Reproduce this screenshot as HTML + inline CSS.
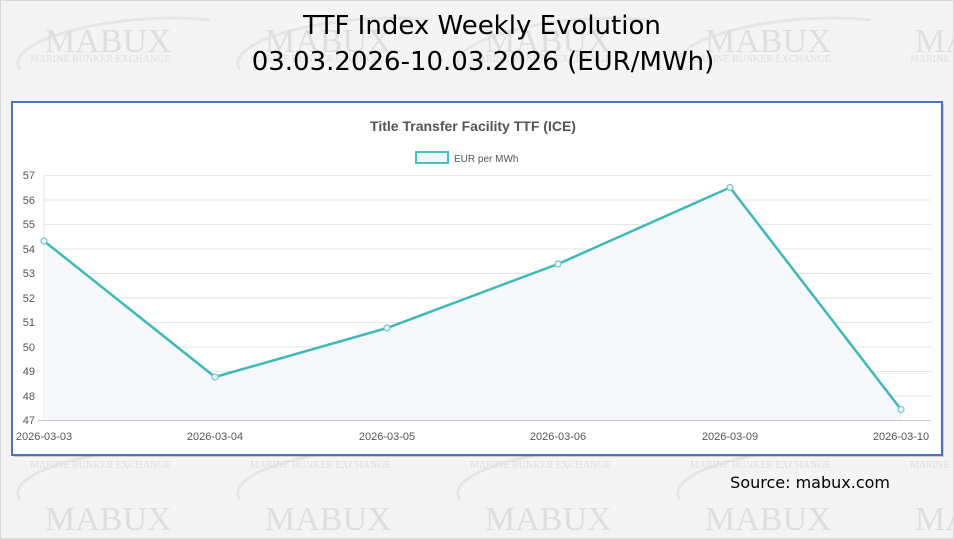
<!DOCTYPE html>
<html><head><meta charset="utf-8"><style>
html,body{margin:0;padding:0;}
body{width:954px;height:539px;overflow:hidden;background:#f4f4f4;font-family:"Liberation Sans",sans-serif;}
</style></head><body>
<svg width="954" height="539" xmlns="http://www.w3.org/2000/svg" style="position:absolute;left:0;top:0">
<rect x="0.5" y="0.5" width="953" height="538" fill="#f4f4f4" stroke="#d8d8d8"/>
<g fill="none" stroke="#e6e6e6" stroke-width="3">
  <path d="M20,70 C0,40 120,10 210,20"/><path d="M240,70 C220,40 340,10 430,20"/><path d="M460,70 C440,40 560,10 650,20"/><path d="M680,70 C660,40 780,10 870,20"/>
  <path d="M20,500 C0,470 120,440 210,450"/><path d="M240,500 C220,470 340,440 430,450"/><path d="M460,500 C440,470 560,440 650,450"/><path d="M680,500 C660,470 780,440 870,450"/>
</g>
<g fill="#dedede" font-family="Liberation Serif,serif">
  <g font-size="34">
    <text x="45" y="52">MABUX</text><text x="265" y="52">MABUX</text><text x="485" y="52">MABUX</text><text x="705" y="52">MABUX</text><text x="915" y="52">MABUX</text>
    <text x="45" y="530">MABUX</text><text x="265" y="530">MABUX</text><text x="485" y="530">MABUX</text><text x="705" y="530">MABUX</text><text x="915" y="530">MABUX</text>
  </g>
  <g font-size="10">
    <text x="30" y="62">MARINE BUNKER EXCHANGE</text><text x="250" y="62">MARINE BUNKER EXCHANGE</text><text x="470" y="62">MARINE BUNKER EXCHANGE</text><text x="690" y="62">MARINE BUNKER EXCHANGE</text><text x="910" y="62">MARINE</text>
    <text x="30" y="468">MARINE BUNKER EXCHANGE</text><text x="250" y="468">MARINE BUNKER EXCHANGE</text><text x="470" y="468">MARINE BUNKER EXCHANGE</text><text x="690" y="468">MARINE BUNKER EXCHANGE</text><text x="910" y="468">MARINE</text>
  </g>
</g>
<text x="482" y="34" text-anchor="middle" font-size="26" fill="#000" font-family="DejaVu Sans,sans-serif">TTF Index Weekly Evolution</text>
<text x="483" y="70" text-anchor="middle" font-size="26" fill="#000" font-family="DejaVu Sans,sans-serif">03.03.2026-10.03.2026 (EUR/MWh)</text>
<text x="890" y="488" text-anchor="end" font-size="16" fill="#000" font-family="DejaVu Sans,sans-serif">Source: mabux.com</text>

<rect x="14" y="104" width="930" height="353" fill="#555" opacity="0.25"/>
<rect x="12" y="102" width="930" height="353" fill="#fff" stroke="#4a72c0" stroke-width="2"/>
<text x="473" y="131" text-anchor="middle" font-size="14" font-weight="bold" fill="#555">Title Transfer Facility TTF (ICE)</text>
<rect x="416" y="152" width="32" height="11" fill="#eef8f8" stroke="#4bc0c0" stroke-width="2"/>
<text x="454" y="162" font-size="10" fill="#555">EUR per MWh</text>
<g stroke="#e6e6e6" stroke-width="1">
  <line x1="44" y1="175.5" x2="931" y2="175.5"/><line x1="44" y1="200" x2="931" y2="200"/><line x1="44" y1="224.5" x2="931" y2="224.5"/><line x1="44" y1="249" x2="931" y2="249"/><line x1="44" y1="273.5" x2="931" y2="273.5"/><line x1="44" y1="298" x2="931" y2="298"/><line x1="44" y1="322.5" x2="931" y2="322.5"/><line x1="44" y1="347" x2="931" y2="347"/><line x1="44" y1="371.5" x2="931" y2="371.5"/><line x1="44" y1="396" x2="931" y2="396"/>
  <line x1="44" y1="175" x2="44" y2="420"/>
</g>
<line x1="38" y1="420.5" x2="931" y2="420.5" stroke="#ccc"/>
<g font-size="11" fill="#555" text-anchor="end">
  <text x="35" y="179">57</text><text x="35" y="204">56</text><text x="35" y="228">55</text><text x="35" y="253">54</text><text x="35" y="277">53</text><text x="35" y="302">52</text><text x="35" y="326">51</text><text x="35" y="351">50</text><text x="35" y="375">49</text><text x="35" y="400">48</text><text x="35" y="424">47</text>
</g>
<g font-size="11" fill="#555" text-anchor="middle">
  <text x="44" y="440">2026-03-03</text><text x="215" y="440">2026-03-04</text><text x="387" y="440">2026-03-05</text><text x="558" y="440">2026-03-06</text><text x="730" y="440">2026-03-09</text><text x="901" y="440">2026-03-10</text>
</g>
<polygon points="44,420 44,241 215,377 387,328 558,264 730,187.5 901,409.5 901,420" fill="#f6f8fb"/>
<polyline points="44,241 215,377 387,328 558,264 730,187.5 901,409.5" fill="none" stroke="#3fb8b8" stroke-width="2.5"/>
<g fill="#eef8f8" stroke="#6cc8c8" stroke-width="1.2">
  <circle cx="44" cy="241" r="3"/><circle cx="215" cy="377" r="3"/><circle cx="387" cy="328" r="3"/><circle cx="558" cy="264" r="3"/><circle cx="730" cy="187.5" r="3"/><circle cx="901" cy="409.5" r="3"/>
</g>
</svg>
</body></html>
